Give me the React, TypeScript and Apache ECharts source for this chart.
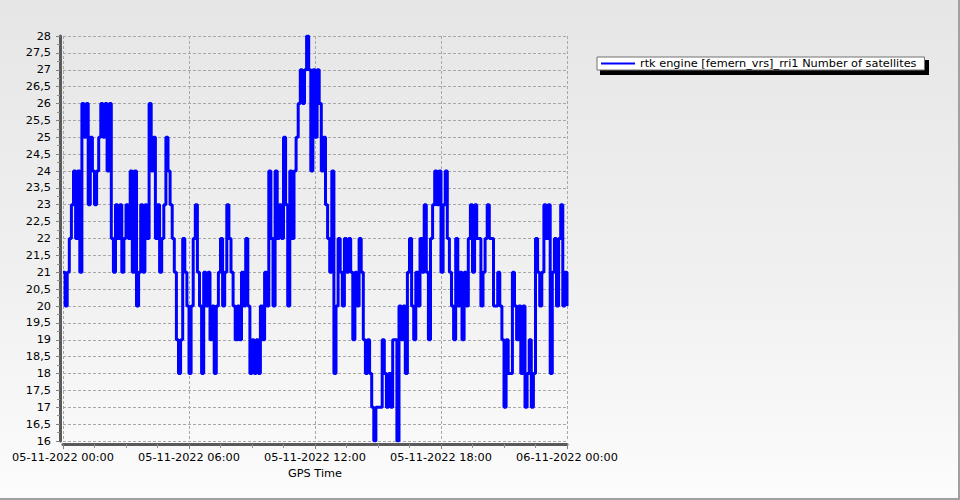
import React, { useEffect, useRef } from "react";
import * as echarts from "echarts";

// Tick labels
const xTickLabels = [
  "05-11-2022 00:00",
  "05-11-2022 06:00",
  "05-11-2022 12:00",
  "05-11-2022 18:00",
  "06-11-2022 00:00",
];
const seriesName = "rtk engine [femern_vrs]_rri1 Number of satellites";
const stepMinutes = 6;

// Number of satellites, one value every 6 minutes
const sats00to06 = [
  21, 20, 21, 22, 23, 24, 22, 24, 21, 26,
  25, 26, 23, 25, 24, 23, 24, 25, 26, 25,
  26, 24, 26, 22, 21, 23, 22, 23, 21, 22,
  23, 22, 24, 21, 24, 20, 21, 23, 21, 23,
  22, 26, 24, 25, 22, 23, 21, 22, 23, 25,
  24, 23, 22, 21, 19, 18, 19, 22, 21, 20,
];
const sats06to12 = [
  18, 20, 22, 23, 21, 20, 18, 21, 20, 21,
  19, 20, 18, 20, 21, 22, 20, 21, 23, 22,
  21, 20, 19, 20, 19, 21, 20, 22, 20, 18,
  19, 18, 19, 18, 20, 19, 21, 20, 24, 22,
  20, 24, 22, 23, 22, 25, 23, 20, 24, 22,
  24, 25, 26, 27, 26, 27, 28, 27, 24, 27,
];
const sats12to18 = [
  25, 27, 26, 24, 25, 23, 22, 21, 24, 18,
  20, 22, 21, 20, 22, 21, 22, 21, 19, 21,
  20, 22, 21, 19, 18, 19, 18, 17, 16, 17,
  17, 17, 19, 18, 17, 18, 17, 19, 19, 16,
  20, 19, 20, 18, 21, 22, 20, 19, 21, 20,
  22, 21, 23, 21, 19, 22, 23, 24, 23, 24,
];
const sats18to24 = [
  21, 23, 24, 22, 21, 20, 19, 22, 20, 21,
  19, 21, 20, 22, 23, 21, 23, 22, 22, 20,
  21, 22, 23, 22, 22, 20, 20, 21, 20, 19,
  17, 19, 18, 18, 21, 20, 19, 20, 18, 20,
  17, 18, 19, 17, 18, 22, 21, 20, 21, 23,
  22, 23, 18, 21, 22, 20, 22, 23, 20, 21,
  20,
];

const FONT = "'DejaVu Sans', Tahoma, sans-serif";
const FS = 11.3;

export default function App() {
  const ref = useRef<HTMLDivElement>(null);

  useEffect(() => {
    document.body.style.margin = "0";
    if (!ref.current) return;
    const chart = echarts.init(ref.current, undefined, { renderer: "svg" });
    const values = [...sats00to06, ...sats06to12, ...sats12to18, ...sats18to24];
    const data = values.map((v, i) => [i * stepMinutes, v]);

    chart.setOption({
      animation: false,
      backgroundColor: "transparent",
      textStyle: { fontFamily: FONT },
      grid: { left: 63, top: 36, width: 504, height: 405, containLabel: false },
      legend: {
        data: [seriesName],
        left: 597,
        top: 57,
        padding: [1, 8, 1, 4],
        backgroundColor: "#ffffff",
        borderColor: "#707070",
        borderWidth: 1,
        borderRadius: 0,
        icon: "rect",
        itemWidth: 34,
        itemHeight: 2,
        z: 10,
        textStyle: { fontSize: FS, color: "#000", fontFamily: FONT },
      },
      graphic: [
        {
          type: "rect",
          z: 1,
          shape: { x: 600, y: 60, width: 329, height: 15 },
          style: { fill: "#000" },
        },
      ],
      xAxis: {
        type: "value",
        min: 0,
        max: 1440,
        interval: 360,
        offset: 3,
        name: "GPS Time",
        nameLocation: "middle",
        nameGap: 22,
        nameTextStyle: { fontSize: FS, color: "#000", fontFamily: FONT },
        axisLine: { show: true, onZero: false, lineStyle: { color: "#5a5a5a", width: 3 } },
        axisTick: { show: true, length: 5, lineStyle: { color: "#808080" } },
        minorTick: { show: true, splitNumber: 4, length: 4, lineStyle: { color: "#909090" } },
        splitLine: { show: true, lineStyle: { color: "#a8a8a8", type: [3, 2], width: 1 } },
        axisLabel: {
          showMinLabel: true,
          showMaxLabel: true,
          fontSize: FS,
          color: "#000",
          margin: 8,
          fontFamily: FONT,
          formatter: (v: number) => xTickLabels[Math.round(v / 360)] ?? "",
        },
      },
      yAxis: {
        type: "value",
        min: 16,
        max: 28,
        interval: 0.5,
        offset: 3,
        axisLine: { show: true, onZero: false, lineStyle: { color: "#5a5a5a", width: 3 } },
        axisTick: { show: true, length: 4, lineStyle: { color: "#808080" } },
        minorTick: { show: true, splitNumber: 2, length: 3, lineStyle: { color: "#909090" } },
        splitLine: { show: true, lineStyle: { color: "#a8a8a8", type: [3, 2], width: 1 } },
        axisLabel: {
          showMinLabel: true,
          showMaxLabel: true,
          fontSize: FS,
          color: "#000",
          margin: 9,
          fontFamily: FONT,
          formatter: (v: number) => String(v).replace(".", ","),
        },
      },
      series: [
        {
          name: seriesName,
          type: "line",
          step: "end",
          data,
          symbol: "none",
          showSymbol: false,
          color: "#0000ff",
          lineStyle: { color: "#0000ff", width: 3 },
          itemStyle: { color: "#0000ff" },
        },
      ],
    });
    return () => chart.dispose();
  }, []);

  return (
    <div
      style={{
        position: "relative",
        width: 960,
        height: 500,
        background: "linear-gradient(to bottom, #e6e6e6 0%, #f0f0f0 55%, #fcfcfc 100%)",
      }}
    >
      <div ref={ref} style={{ position: "absolute", left: 0, top: 0, width: 960, height: 500 }} />
      <div
        style={{
          position: "absolute",
          left: 0,
          top: 0,
          width: 960,
          height: 500,
          boxSizing: "border-box",
          borderRight: "2px solid #a0a0a0",
          borderBottom: "2px solid #a0a0a0",
          pointerEvents: "none",
        }}
      />
    </div>
  );
}
